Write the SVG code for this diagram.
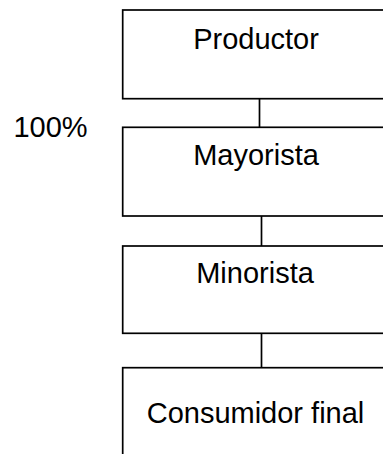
<svg xmlns="http://www.w3.org/2000/svg" width="383" height="454" viewBox="0 0 383 454">
<style>
.box{fill:#fff;stroke:#000;stroke-width:1.7}
.t{font-family:"Liberation Sans",Arial,sans-serif;font-size:29px;fill:#000;text-anchor:middle}
.c{stroke:#000;stroke-width:1.7;fill:none}
</style>
<rect width="383" height="454" fill="#fff"/>
<g id="connectors">
<line class="c" x1="259.5" y1="99" x2="259.5" y2="127"/>
<line class="c" x1="261.5" y1="216" x2="261.5" y2="246"/>
<line class="c" x1="261.5" y1="333" x2="261.5" y2="368"/>
</g>
<g id="productor"><rect class="box" x="122.7" y="10" width="270" height="88.7"/><text class="t" x="256" y="49">Productor</text></g>
<g id="mayorista"><rect class="box" x="122.7" y="127.3" width="270" height="88.7"/><text class="t" x="256" y="165">Mayorista</text></g>
<g id="minorista"><rect class="box" x="122.7" y="246" width="270" height="87.3"/><text class="t" x="255" y="283">Minorista</text></g>
<g id="consumidor"><rect class="box" x="122.7" y="367.7" width="270" height="100"/><text class="t" x="255.5" y="422.5">Consumidor final</text></g>
<g id="pct"><text class="t" x="50.5" y="137.3">100%</text></g>
</svg>
